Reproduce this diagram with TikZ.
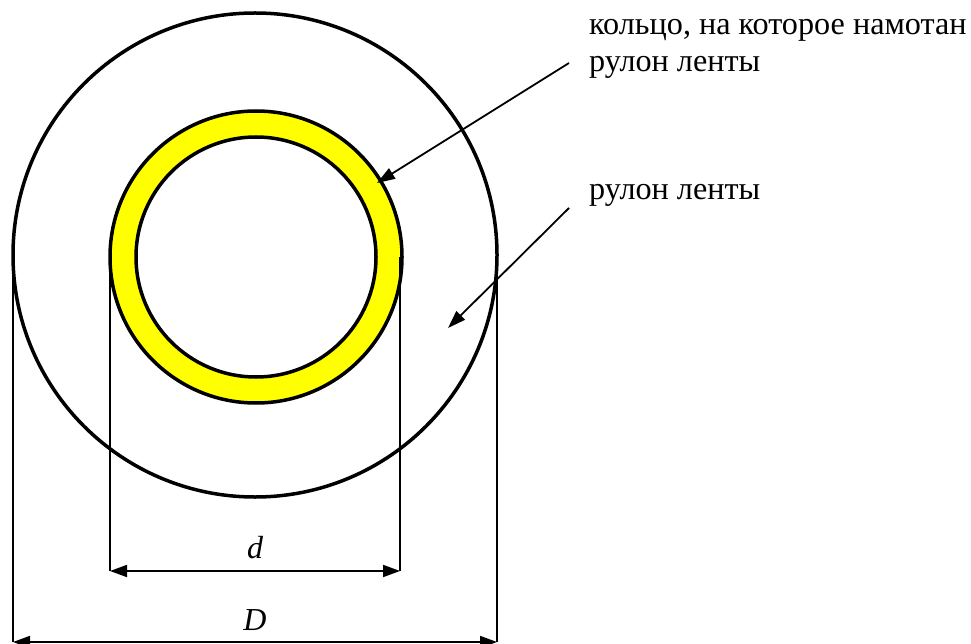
\documentclass[tikz,border=0pt]{standalone}
\usepackage{fontspec}
\setmainfont{Liberation Serif}
\usetikzlibrary{arrows.meta}
\begin{document}
\begin{tikzpicture}[x=1pt,y=-1pt]
	% Styles
	\tikzstyle{contour}=[line width=3.5pt]
	\tikzstyle{anneau}=[fill={rgb,255:red,255;green,255;blue,0},even odd rule]
	\tikzstyle{rappel}=[line width=1.8pt]
	\tikzstyle{cote}=[<->,>={Triangle[length=17pt,width=12pt]},line width=1.8pt]
	\tikzstyle{fleche}=[->,>={Triangle[length=18pt,width=12pt]},line width=1.8pt]
	\tikzstyle{legende}=[inner sep=0pt,anchor=base west,font=\fontsize{32.2}{37}\selectfont]
	\tikzstyle{lettre}=[inner sep=0pt,font=\fontsize{32}{37}\selectfont\itshape]
	% Dimensions
	\def\RayonRouleau{242}
	\def\RayonAnneauExt{146}
	\def\RayonAnneauInt{120}
	\useasboundingbox (0,0) rectangle (971,644);
	% Centres
	\coordinate (C) at (255,255);
	\coordinate (c) at (256,257);
	% Rouleau et anneau
	\draw[contour] (C) circle (\RayonRouleau);
	\fill[anneau] (c) circle (\RayonAnneauExt) (c) circle (\RayonAnneauInt);
	\draw[contour] (c) circle (\RayonAnneauExt);
	\draw[contour] (c) circle (\RayonAnneauInt);
	% Lignes de rappel
	\coordinate (dG) at (110,257);
	\coordinate (dD) at (400,257);
	\coordinate (dGb) at (110,571);
	\coordinate (dDb) at (400,571);
	\coordinate (DG) at (13,255);
	\coordinate (DD) at (497,255);
	\coordinate (DGb) at (13,642);
	\coordinate (DDb) at (497,642);
	\draw[rappel] (dG) -- (dGb);
	\draw[rappel] (dD) -- (dDb);
	\draw[rappel] (DG) -- (DGb);
	\draw[rappel] (DD) -- (DDb);
	% Cotes
	\draw[cote] (dGb) -- (dDb);
	\draw[cote] (DGb) -- (DDb);
	\node[lettre] (d) at (255,548) {d};
	\node[lettre] (Dn) at (255,620) {D};
	% Legendes
	\node[legende] (kolco) at (589,35) {кольцо, на которое намотан};
	\node[legende] (kolcoB) at (589,72) {рулон ленты};
	\node[legende] (rulon) at (589,200) {рулон ленты};
	% Fleches
	\coordinate (depart1) at (569,63);
	\coordinate (pointe1) at (377,183);
	\coordinate (depart2) at (569,208);
	\coordinate (pointe2) at (448,328);
	\draw[fleche] (depart1) -- (pointe1);
	\draw[fleche] (depart2) -- (pointe2);
\end{tikzpicture}
\end{document}
